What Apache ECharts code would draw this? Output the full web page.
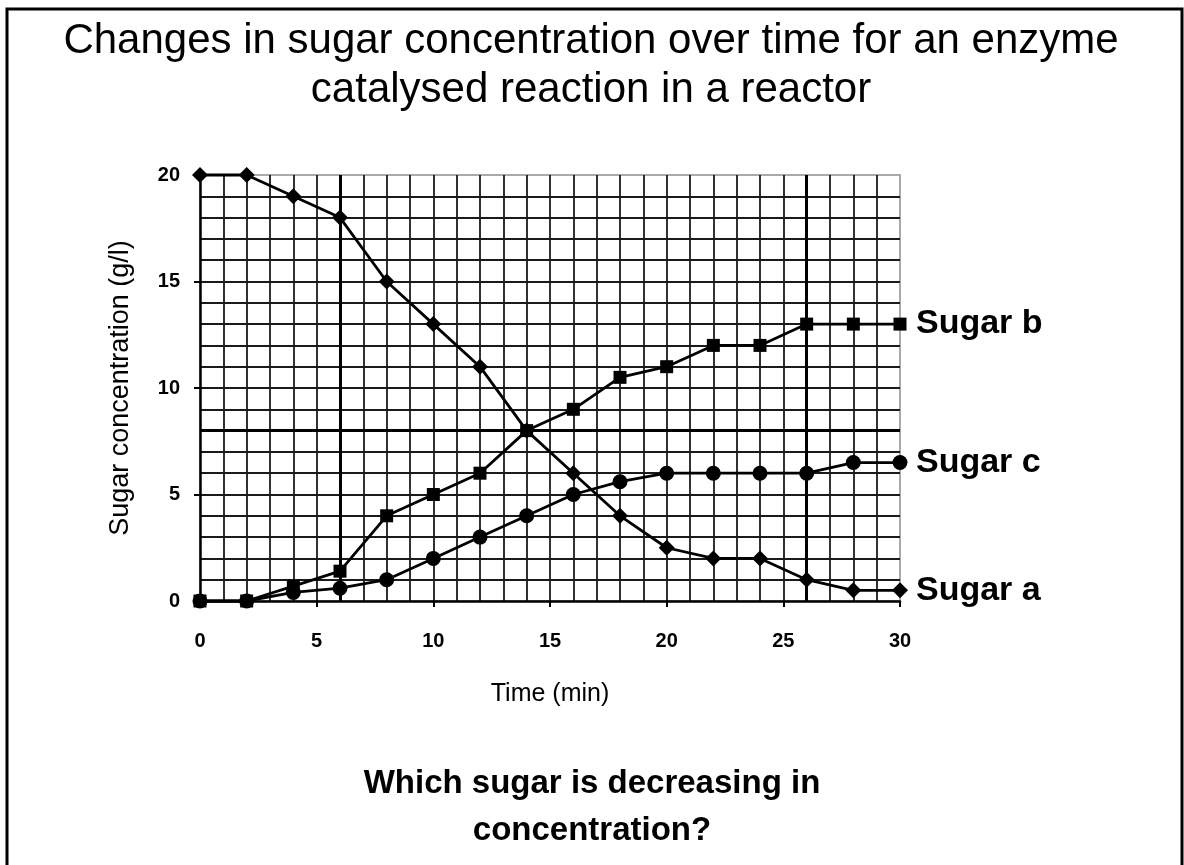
<!DOCTYPE html>
<html>
<head>
<meta charset="utf-8">
<title>Sugar concentration</title>
<script src="https://cdn.jsdelivr.net/npm/echarts@6/dist/echarts.min.js"></script>
<style>
  html, body { margin: 0; padding: 0; background: #fff; }
  #chart { width: 1184px; height: 865px; }
</style>
</head>
<body>
<div id="chart"></div>
<script>
// time in minutes
var times = [0, 2, 4, 6, 8, 10, 12, 14, 16, 18, 20, 22, 24, 26, 28, 30];
// sugar concentration (g/l)
var sugarA = [20, 20, 19, 18, 15, 13, 11, 8, 6, 4, 2.5, 2, 2, 1, 0.5, 0.5];
var sugarB = [0, 0, 0.7, 1.4, 4, 5, 6, 8, 9, 10.5, 11, 12, 12, 13, 13, 13];
var sugarC = [0, 0, 0.4, 0.6, 1, 2, 3, 4, 5, 5.6, 6, 6, 6, 6, 6.5, 6.5];
var seriesNames = ["Sugar a", "Sugar b", "Sugar c"];
var seriesSymbols = ["diamond", "rect", "circle"];
var heavyX = [6, 26];
var heavyY = [8];

function pairs(ys) {
  return times.map(function (t, i) { return [t, ys[i]]; });
}

var chart = echarts.init(document.getElementById("chart"));
var font = "'Liberation Sans', Arial, sans-serif";

var gridLine = { color: "#1a1a1a", width: 1.8 };

var series = [sugarA, sugarB, sugarC].map(function (ys, i) {
  return {
    name: seriesNames[i],
    type: "line",
    data: pairs(ys),
    symbol: seriesSymbols[i],
    symbolSize: i === 0 ? 16 : (i === 1 ? 13 : 15),
    clip: false,
    lineStyle: { color: "#000", width: 2.8 },
    itemStyle: { color: "#000" },
    endLabel: {
      show: true,
      formatter: "{a}",
      distance: 16,
      color: "#000",
      fontFamily: font,
      fontWeight: "bold",
      fontSize: 34
    },
    z: 5
  };
});

// heavier reference lines of the printed grid
series.push({
  type: "line",
  data: [],
  silent: true,
  markLine: {
    silent: true,
    symbol: "none",
    label: { show: false },
    lineStyle: { color: "#000", width: 3, type: "solid" },
    data: heavyX.map(function (v) { return { xAxis: v }; })
      .concat(heavyY.map(function (v) { return { yAxis: v }; }))
  },
  z: 3
});

var option = {
  animation: false,
  backgroundColor: "#fff",
  graphic: [
    {
      type: "rect",
      shape: { x: 7, y: 9, width: 1175, height: 900 },
      style: { fill: "none", stroke: "#000", lineWidth: 3 },
      silent: true
    },
    {
      type: "text",
      x: 591,
      y: 41,
      style: {
        text: "Changes in sugar concentration over time for an enzyme",
        font: "42px " + font,
        fill: "#000",
        align: "center",
        verticalAlign: "middle"
      }
    },
    {
      type: "text",
      x: 591,
      y: 90,
      style: {
        text: "catalysed reaction in a reactor",
        font: "42px " + font,
        fill: "#000",
        align: "center",
        verticalAlign: "middle"
      }
    },
    {
      type: "text",
      x: 592,
      y: 784,
      style: {
        text: "Which sugar is decreasing in",
        font: "bold 33px " + font,
        fill: "#000",
        align: "center",
        verticalAlign: "middle"
      }
    },
    {
      type: "text",
      x: 592,
      y: 831,
      style: {
        text: "concentration?",
        font: "bold 33px " + font,
        fill: "#000",
        align: "center",
        verticalAlign: "middle"
      }
    }
  ],
  grid: {
    left: 200,
    right: 284,
    top: 175,
    bottom: 264,
    show: true,
    borderColor: "#aaa",
    borderWidth: 2
  },
  xAxis: {
    type: "value",
    min: 0,
    max: 30,
    interval: 5,
    name: "Time (min)",
    nameLocation: "middle",
    nameGap: 81,
    nameTextStyle: { fontFamily: font, fontSize: 25, color: "#000" },
    axisLine: { onZero: false, lineStyle: { color: "#000", width: 2.5 } },
    axisTick: { show: true, length: 6, lineStyle: { color: "#000", width: 2 } },
    axisLabel: { fontFamily: font, fontWeight: "bold", fontSize: 20, color: "#000", margin: 30 },
    splitLine: { show: true, showMinLine: false, showMaxLine: false, lineStyle: gridLine },
    minorTick: { show: false, splitNumber: 5 },
    minorSplitLine: { show: true, lineStyle: gridLine }
  },
  yAxis: {
    type: "value",
    min: 0,
    max: 20,
    interval: 5,
    name: "Sugar concentration (g/l)",
    nameLocation: "middle",
    nameGap: 66,
    nameTextStyle: { fontFamily: font, fontSize: 27, color: "#000" },
    axisLine: { show: true, onZero: false, lineStyle: { color: "#000", width: 2.5 } },
    axisTick: { show: true, length: 6, lineStyle: { color: "#000", width: 2 } },
    axisLabel: { fontFamily: font, fontWeight: "bold", fontSize: 20, color: "#000", margin: 20 },
    splitLine: { show: true, showMinLine: false, showMaxLine: false, lineStyle: gridLine },
    minorTick: { show: false, splitNumber: 5 },
    minorSplitLine: { show: true, lineStyle: gridLine }
  },
  series: series
};

chart.setOption(option);
</script>
</body>
</html>
